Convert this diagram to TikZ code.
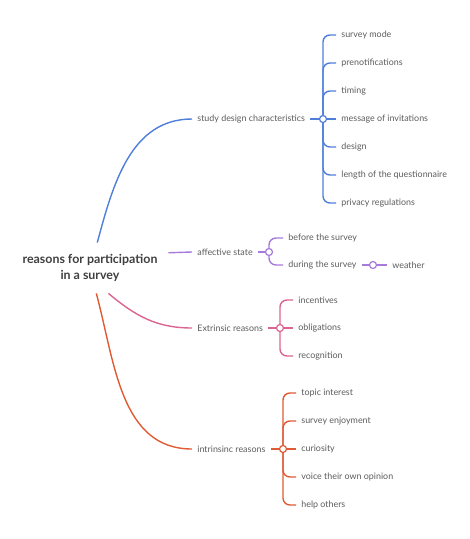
\documentclass[tikz,border=0pt]{standalone}
\usepackage{fontspec}
\setmainfont{Lato}
\usetikzlibrary{positioning,backgrounds}

\definecolor{sdblue}{HTML}{4F7EDB}
\definecolor{afpurple}{HTML}{A77BDC}
\definecolor{expink}{HTML}{DA6592}
\definecolor{inorange}{HTML}{E05B33}
\definecolor{txtgray}{HTML}{5C5C5C}
\definecolor{rootgray}{HTML}{3F3F3F}

\begin{document}
\begin{tikzpicture}[x=1pt,y=1pt,thick,
  root node/.style={align=center,text=rootgray,inner sep=0pt,minimum width=156pt,
    minimum height=50pt,font=\fontsize{12.4}{16}\selectfont\bfseries},
  topic node/.style={anchor=west,inner xsep=5pt,inner ysep=2pt,text=txtgray,
    font=\fontsize{8.9}{10}\selectfont},
  leaf node/.style={topic node},
  knot/.style={circle,draw,fill=white,minimum size=7pt,inner sep=0pt,line width=1.2pt},
  leaf below/.style={below=28pt of #1.west,anchor=west},
  branch/.style={to path={|- (\tikztotarget)},rounded corners=7pt},
  link/.style={line width=1.4pt}]

  \useasboundingbox (0,0) rectangle (470,-539);

  \node[root node] (r) at (90,-268) {reasons for participation\\in a survey};

  % study design
  \node[topic node] (s) at (192,-119) {study design characteristics};
  \node[knot,draw=sdblue] (sk) at (323,-119) {};
  \node[leaf node] (s1) at (336,-35) {survey mode};
  \node[leaf node] (s2) [leaf below=s1] {prenotifications};
  \node[leaf node] (s3) [leaf below=s2] {timing};
  \node[leaf node] (s4) [leaf below=s3] {message of invitations};
  \node[leaf node] (s5) [leaf below=s4] {design};
  \node[leaf node] (s6) [leaf below=s5] {length of the questionnaire};
  \node[leaf node] (s7) [leaf below=s6] {privacy regulations};

  % affective state
  \node[topic node] (a) at (192,-252) {affective state};
  \node[knot,draw=afpurple] (ak) at (269,-252) {};
  \node[leaf node] (a1) at (283,-238) {before the survey};
  \node[leaf node] (a2) at (283,-265) {during the survey};
  \node[knot,draw=afpurple] (wk) at (373,-265) {};
  \node[leaf node] (w) at (387,-265) {weather};

  % extrinsic
  \node[topic node] (e) at (192,-328) {Extrinsic reasons};
  \node[knot,draw=expink] (ek) at (280,-328) {};
  \node[leaf node] (e1) at (293,-300) {incentives};
  \node[leaf node] (e2) [leaf below=e1] {obligations};
  \node[leaf node] (e3) [leaf below=e2] {recognition};

  % intrinsic
  \node[topic node] (i) at (192,-449) {intrinsinc reasons};
  \node[knot,draw=inorange] (ik) at (283,-449) {};
  \node[leaf node] (i1) at (296,-393) {topic interest};
  \node[leaf node] (i2) [leaf below=i1] {survey enjoyment};
  \node[leaf node] (i3) [leaf below=i2] {curiosity};
  \node[leaf node] (i4) [leaf below=i3] {voice their own opinion};
  \node[leaf node] (i5) [leaf below=i4] {help others};

  \begin{pgfonlayer}{background}
  \begin{scope}[link,sdblue]
  \path (r.74) edge[out=75,in=180] (s.west)
    (s) edge (sk)
    (sk.center) edge[branch] (s1.west)
                edge[branch] (s2.west)
                edge[branch] (s3.west)
                edge (s4.west)
                edge[branch] (s5.west)
                edge[branch] (s6.west)
                edge[branch] (s7.west);
  \end{scope}
  \begin{scope}[link,afpurple]
  \path (r.11) edge (a.west)
    (a) edge (ak)
    (ak.center) edge[branch] (a1.west)
                edge[branch] (a2.west)
    (a2) edge (wk)
    (wk) edge (w.west);
  \end{scope}
  \begin{scope}[link,expink]
  \path (r.306) edge[out=-40,in=180] (e.west)
    (e) edge (ek)
    (ek.center) edge[branch] (e1.west)
                edge (e2.west)
                edge[branch] (e3.west);
  \end{scope}
  \begin{scope}[link,inorange]
  \path (r.284) edge[out=-75,in=180] (i.west)
    (i) edge (ik)
    (ik.center) edge[branch] (i1.west)
                edge[branch] (i2.west)
                edge (i3.west)
                edge[branch] (i4.west)
                edge[branch] (i5.west);
  \end{scope}
  \end{pgfonlayer}
\end{tikzpicture}
\end{document}
